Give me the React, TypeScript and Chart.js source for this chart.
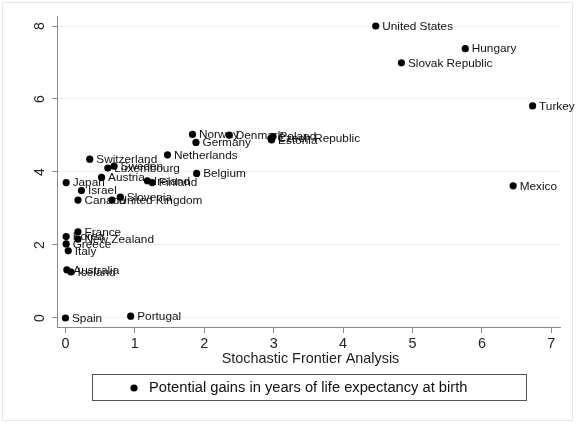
import React, { useEffect, useRef } from "react";
import { Chart, registerables } from "chart.js";

Chart.register(...registerables);

const countries = [
  "United States", "Hungary", "Slovak Republic", "Turkey", "Mexico",
  "Norway", "Denmark", "Poland", "Czech Republic", "Estonia",
  "Germany", "Netherlands", "Belgium", "Switzerland", "Sweden",
  "Luxembourg", "Austria", "Japan", "Israel", "Canada",
  "United Kingdom", "Slovenia", "Ireland", "Finland", "France",
  "Korea", "New Zealand", "Greece", "Italy", "Australia",
  "Iceland", "Spain", "Portugal",
];
const sfaScores = [
  4.47, 5.76, 4.84, 6.73, 6.45,
  1.83, 2.36, 2.99, 2.96, 2.97,
  1.88, 1.47, 1.89, 0.35, 0.70,
  0.61, 0.52, 0.01, 0.23, 0.18,
  0.67, 0.79, 1.18, 1.25, 0.18,
  0.01, 0.18, 0.01, 0.04, 0.02,
  0.08, 0.0, 0.94,
];
const lifeGains = [
  8.0, 7.38, 6.99, 5.81, 3.62,
  5.03, 5.01, 4.97, 4.92, 4.88,
  4.81, 4.47, 3.96, 4.35, 4.16,
  4.11, 3.85, 3.71, 3.49, 3.23,
  3.23, 3.31, 3.76, 3.71, 2.36,
  2.23, 2.16, 2.03, 1.84, 1.32,
  1.26, 0.0, 0.05,
];
const xTickValues = [0, 1, 2, 3, 4, 5, 6, 7];
const yTickValues = [0, 2, 4, 6, 8];
const xAxisTitle = "Stochastic Frontier Analysis";
const legendLabel = "Potential gains in years of life expectancy at birth";

const FONT = '"Liberation Sans", Arial, Helvetica, sans-serif';
const AXIS_GRAY = "#8a8a8a";

export default function App() {
  const ref = useRef<HTMLCanvasElement>(null);

  useEffect(() => {
    document.body.style.margin = "0";
    const canvas = ref.current!;

    const overlay = {
      id: "overlay",
      beforeDraw(chart: any) {
        const ctx = chart.ctx;
        ctx.save();
        ctx.fillStyle = "#ffffff";
        ctx.fillRect(0, 0, chart.width, chart.height);
        ctx.strokeStyle = "#e3e8eb";
        ctx.lineWidth = 1;
        ctx.strokeRect(2.5, 2.5, 570, 418);
        ctx.restore();
      },
      afterDraw(chart: any) {
        const ctx = chart.ctx;
        const ys = chart.scales.y;
        const xs = chart.scales.x;
        ctx.save();
        // rotated y tick labels
        ctx.fillStyle = "#222";
        ctx.font = `14px ${FONT}`;
        ctx.textAlign = "center";
        ctx.textBaseline = "middle";
        yTickValues.forEach((v) => {
          const py = ys.getPixelForValue(v);
          ctx.save();
          ctx.translate(40, py);
          ctx.rotate(-Math.PI / 2);
          ctx.fillText(String(v), 0, 0);
          ctx.restore();
        });
        // x axis title
        ctx.font = `14.4px ${FONT}`;
        ctx.fillText(xAxisTitle, (xs.left + xs.right) / 2 + 2, 359);
        // point labels
        const meta = chart.getDatasetMeta(0);
        ctx.font = `11.8px ${FONT}`;
        ctx.textAlign = "left";
        ctx.fillStyle = "#111";
        meta.data.forEach((pt: any, i: number) => {
          ctx.fillText(countries[i], pt.x + 6.5, pt.y + 0.5);
        });
        // legend box
        ctx.strokeStyle = "#555";
        ctx.lineWidth = 1;
        ctx.strokeRect(92.5, 374.5, 434, 26);
        ctx.fillStyle = "#000";
        ctx.beginPath();
        ctx.arc(134, 388, 3.6, 0, Math.PI * 2);
        ctx.fill();
        ctx.fillStyle = "#111";
        ctx.font = `14.7px ${FONT}`;
        ctx.fillText(legendLabel, 149, 388);
        ctx.restore();
      },
    };

    const chart = new Chart(canvas, {
      type: "scatter",
      data: {
        datasets: [
          {
            label: legendLabel,
            data: countries.map((_, i) => ({ x: sfaScores[i], y: lifeGains[i] })),
            backgroundColor: "#000",
            borderColor: "#000",
            borderWidth: 0,
            pointRadius: 3.6,
            pointHoverRadius: 3.6,
          },
        ],
      },
      options: {
        responsive: false,
        animation: false,
        devicePixelRatio: 1,
        layout: { padding: { top: 16, right: 20, left: 0, bottom: 0 } },
        plugins: {
          legend: { display: false },
          tooltip: { enabled: false },
        },
        scales: {
          x: {
            type: "linear",
            min: -0.122,
            max: 7.125,
            afterBuildTicks: (s: any) => {
              s.ticks = xTickValues.map((v) => ({ value: v }));
            },
            afterFit: (s: any) => {
              s.height = 100;
            },
            grid: {
              drawOnChartArea: false,
              drawTicks: true,
              tickLength: 6,
              tickColor: AXIS_GRAY,
            },
            border: { display: true, color: AXIS_GRAY, width: 1 },
            ticks: {
              padding: 2,
              color: "#222",
              maxRotation: 0,
              autoSkip: false,
              font: { family: FONT, size: 14.4 },
            },
          },
          y: {
            type: "linear",
            min: -0.247,
            max: 8.274,
            afterBuildTicks: (s: any) => {
              s.ticks = yTickValues.map((v) => ({ value: v }));
            },
            afterFit: (s: any) => {
              s.width = 57;
            },
            grid: {
              color: "#eef1f3",
              drawTicks: true,
              tickLength: 5,
              tickColor: AXIS_GRAY,
            },
            border: { display: true, color: AXIS_GRAY, width: 1 },
            ticks: { display: false },
          },
        },
      },
      plugins: [overlay],
    });

    return () => chart.destroy();
  }, []);

  return (
    <div style={{ width: 580, height: 427 }}>
      <canvas ref={ref} width={580} height={427} style={{ display: "block" }} />
    </div>
  );
}
